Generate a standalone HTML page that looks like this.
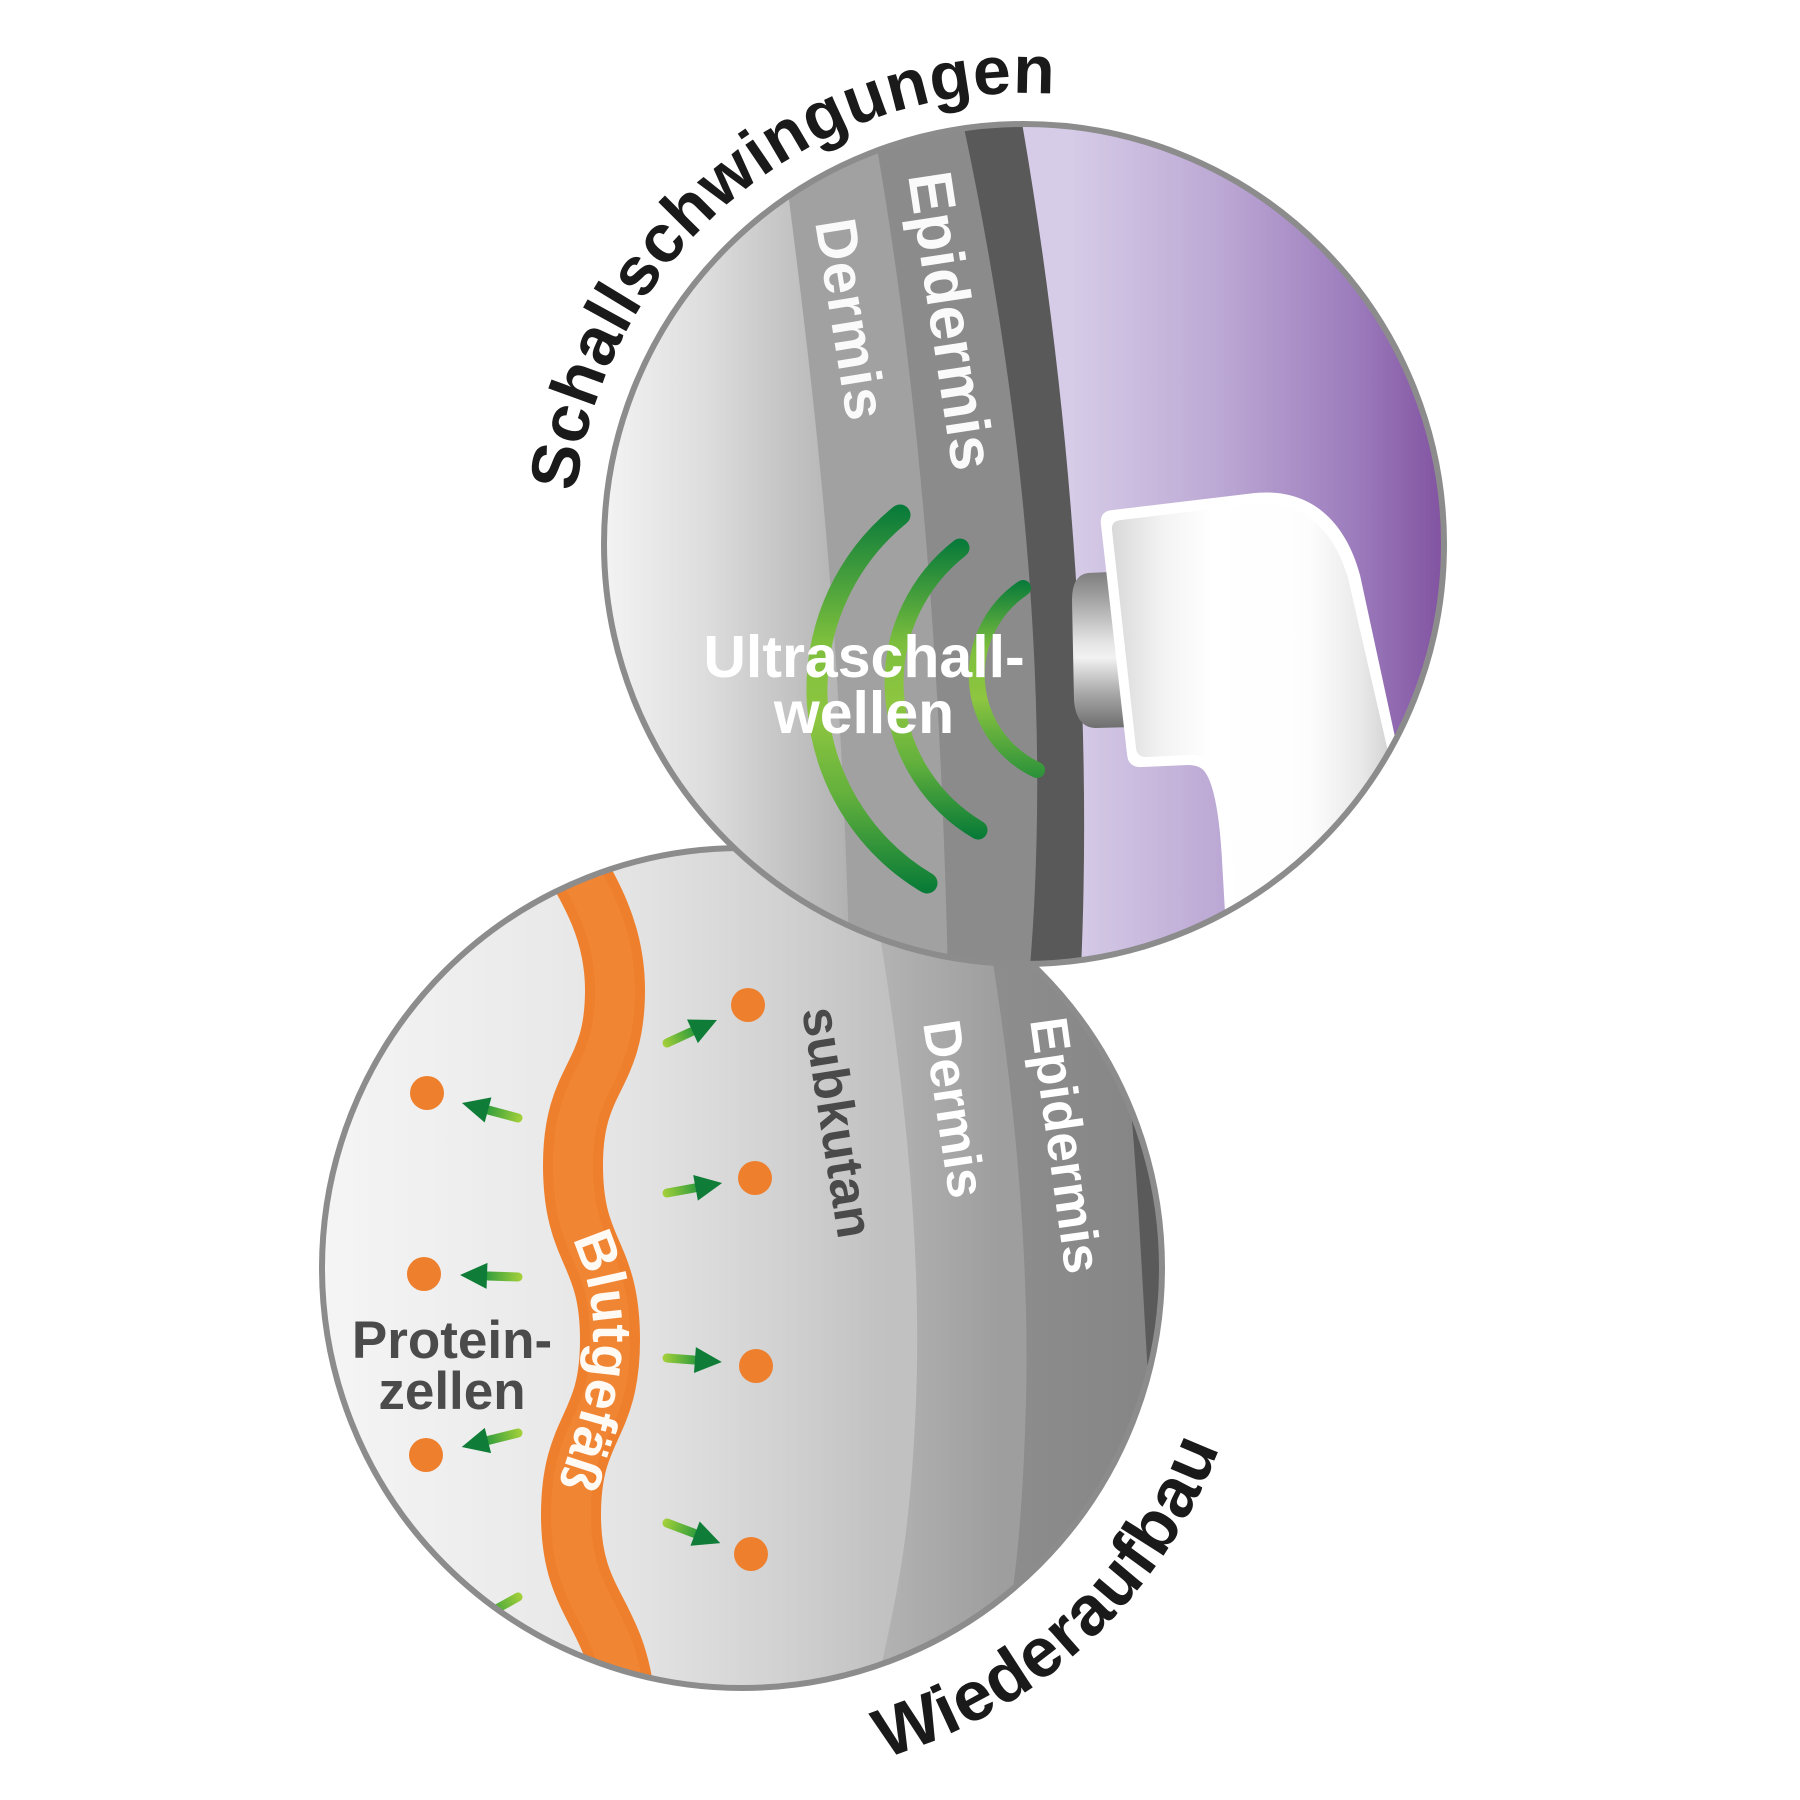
<!DOCTYPE html>
<html>
<head>
<meta charset="utf-8">
<style>
  html,body{margin:0;padding:0;background:#ffffff;}
  svg{display:block;}
  text{font-family:"Liberation Sans", Arial, sans-serif;font-weight:bold;}
</style>
</head>
<body>
<svg width="1800" height="1800" viewBox="0 0 1800 1800" xmlns="http://www.w3.org/2000/svg">
  <defs>
    <clipPath id="cTop"><circle cx="1024" cy="544" r="420"/></clipPath>
    <clipPath id="cBot"><circle cx="742" cy="1268" r="420"/></clipPath>

    <linearGradient id="gTopBase" gradientUnits="userSpaceOnUse" x1="604" y1="0" x2="850" y2="0">
      <stop offset="0" stop-color="#f3f3f3"/>
      <stop offset="0.4" stop-color="#dedede"/>
      <stop offset="0.65" stop-color="#cbcbcb"/>
      <stop offset="1" stop-color="#b1b1b1"/>
    </linearGradient>
    <linearGradient id="gPurple" gradientUnits="userSpaceOnUse" x1="1070" y1="0" x2="1446" y2="0">
      <stop offset="0" stop-color="#d6cce7"/>
      <stop offset="0.4" stop-color="#bca8d4"/>
      <stop offset="0.75" stop-color="#9d7dbd"/>
      <stop offset="1" stop-color="#8152a0"/>
    </linearGradient>
    <linearGradient id="gBotBase" gradientUnits="userSpaceOnUse" x1="322" y1="0" x2="885" y2="0">
      <stop offset="0" stop-color="#f5f5f5"/>
      <stop offset="0.42" stop-color="#e9e9e9"/>
      <stop offset="0.58" stop-color="#e2e2e2"/>
      <stop offset="0.81" stop-color="#d2d2d2"/>
      <stop offset="1" stop-color="#c1c1c1"/>
    </linearGradient>
    <linearGradient id="gBotDerm" gradientUnits="userSpaceOnUse" x1="880" y1="0" x2="1000" y2="0">
      <stop offset="0" stop-color="#b3b3b3"/>
      <stop offset="1" stop-color="#9e9e9e"/>
    </linearGradient>
    <linearGradient id="gBotEpi" gradientUnits="userSpaceOnUse" x1="1000" y1="0" x2="1160" y2="0">
      <stop offset="0" stop-color="#8d8d8d"/>
      <stop offset="1" stop-color="#858585"/>
    </linearGradient>

    <linearGradient id="gW1" gradientUnits="userSpaceOnUse" x1="0" y1="505" x2="0" y2="893">
      <stop offset="0" stop-color="#06793a"/>
      <stop offset="0.35" stop-color="#7dbf3d"/>
      <stop offset="0.55" stop-color="#8ec640"/>
      <stop offset="0.75" stop-color="#62b03c"/>
      <stop offset="1" stop-color="#067a37"/>
    </linearGradient>
    <linearGradient id="gW2" gradientUnits="userSpaceOnUse" x1="0" y1="540" x2="0" y2="838">
      <stop offset="0" stop-color="#06793a"/>
      <stop offset="0.35" stop-color="#7dbf3d"/>
      <stop offset="0.55" stop-color="#8ec640"/>
      <stop offset="0.75" stop-color="#62b03c"/>
      <stop offset="1" stop-color="#067a37"/>
    </linearGradient>
    <linearGradient id="gW3" gradientUnits="userSpaceOnUse" x1="0" y1="580" x2="0" y2="778">
      <stop offset="0" stop-color="#06793a"/>
      <stop offset="0.35" stop-color="#7dbf3d"/>
      <stop offset="0.6" stop-color="#8ec640"/>
      <stop offset="1" stop-color="#2a913a"/>
    </linearGradient>

    <linearGradient id="gCyl" gradientUnits="userSpaceOnUse" x1="0" y1="571" x2="0" y2="728">
      <stop offset="0" stop-color="#7d7d7d"/>
      <stop offset="0.15" stop-color="#9c9c9c"/>
      <stop offset="0.45" stop-color="#e3e3e3"/>
      <stop offset="0.55" stop-color="#f2f2f2"/>
      <stop offset="0.78" stop-color="#a8a8a8"/>
      <stop offset="1" stop-color="#6e6e6e"/>
    </linearGradient>
    <linearGradient id="gProbe" gradientUnits="userSpaceOnUse" x1="1112" y1="0" x2="1395" y2="0">
      <stop offset="0" stop-color="#d9d9d9"/>
      <stop offset="0.18" stop-color="#f3f3f3"/>
      <stop offset="0.35" stop-color="#ffffff"/>
      <stop offset="0.7" stop-color="#fdfdfd"/>
      <stop offset="0.88" stop-color="#e9e9e9"/>
      <stop offset="1" stop-color="#cfcfcf"/>
    </linearGradient>

    <linearGradient id="gArrow" x1="0" y1="0" x2="1" y2="0">
      <stop offset="0" stop-color="#a6d13a"/>
      <stop offset="1" stop-color="#2a9a3c"/>
    </linearGradient>

    <path id="pSchall" d="M 576.0 492.2 A 451 451 0 0 1 1249.5 153.4"/>
    <path id="pWieder" d="M 884.3 1757.8 A 510 510 0 0 0 1204.2 1052.5"/>
    <path id="pBlut" d="M 568 1232 C 585 1262, 594 1300, 593 1340 C 592 1390, 572 1440, 552 1505"/>
  </defs>

  <rect x="0" y="0" width="1800" height="1800" fill="#ffffff"/>

  <!-- ================= BOTTOM CIRCLE ================= -->
  <g clip-path="url(#cBot)">
    <rect x="300" y="840" width="900" height="900" fill="url(#gBotBase)"/>
    <path d="M 874 900 C 905 1080, 922 1250, 916 1400 S 895 1600, 874 1700 L 1300 1700 L 1300 900 Z" fill="url(#gBotDerm)"/>
    <path d="M 982 900 C 1012 1060, 1030 1250, 1026 1400 S 1012 1600, 995 1700 L 1300 1700 L 1300 900 Z" fill="url(#gBotEpi)"/>
    <path d="M 1131 1110 C 1139 1200, 1143 1300, 1149 1390 L 1300 1390 L 1300 1110 Z" fill="#5a5a5a"/>

    <!-- blood vessel -->
    <path d="M 560 840 C 590 890, 615 930, 615 990 C 615 1080, 573 1075, 573 1165 C 573 1255, 610 1250, 610 1340 C 610 1430, 571 1425, 571 1515 C 571 1605, 615 1610, 625 1700"
          fill="none" stroke="#ee7f2c" stroke-width="60"/>
    <path d="M 560 840 C 590 890, 615 930, 615 990 C 615 1080, 573 1075, 573 1165 C 573 1255, 610 1250, 610 1340 C 610 1430, 571 1425, 571 1515 C 571 1605, 615 1610, 625 1700"
          fill="none" stroke="#f18b3a" stroke-width="40" opacity="0.5"/>

    <!-- arrows right -->
    <g transform="translate(667,1043) rotate(-24.7)">
      <rect x="-4.5" y="-4.5" width="36" height="9" rx="4.5" fill="url(#gArrow)"/>
      <path d="M 28 -13 L 55 0 L 28 13 Z" fill="#0f7d38"/>
    </g>
    <g transform="translate(667,1193) rotate(-10.3)">
      <rect x="-4.5" y="-4.5" width="37" height="9" rx="4.5" fill="url(#gArrow)"/>
      <path d="M 29 -13 L 56 0 L 29 13 Z" fill="#0f7d38"/>
    </g>
    <g transform="translate(667,1358) rotate(4.2)">
      <rect x="-4.5" y="-4.5" width="36" height="9" rx="4.5" fill="url(#gArrow)"/>
      <path d="M 28 -13 L 55 0 L 28 13 Z" fill="#0f7d38"/>
    </g>
    <g transform="translate(667,1523) rotate(20.7)">
      <rect x="-4.5" y="-4.5" width="38" height="9" rx="4.5" fill="url(#gArrow)"/>
      <path d="M 30 -13 L 57 0 L 30 13 Z" fill="#0f7d38"/>
    </g>
    <!-- arrows left -->
    <g transform="translate(518,1118) rotate(195)">
      <rect x="-4.5" y="-4.5" width="39" height="9" rx="4.5" fill="url(#gArrow)"/>
      <path d="M 31 -13 L 58 0 L 31 13 Z" fill="#0f7d38"/>
    </g>
    <g transform="translate(518,1277) rotate(182)">
      <rect x="-4.5" y="-4.5" width="39" height="9" rx="4.5" fill="url(#gArrow)"/>
      <path d="M 31 -13 L 58 0 L 31 13 Z" fill="#0f7d38"/>
    </g>
    <g transform="translate(518,1433) rotate(166)">
      <rect x="-4.5" y="-4.5" width="39" height="9" rx="4.5" fill="url(#gArrow)"/>
      <path d="M 31 -13 L 58 0 L 31 13 Z" fill="#0f7d38"/>
    </g>
    <g transform="translate(518,1597) rotate(151)">
      <rect x="-4.5" y="-4.5" width="41" height="9" rx="4.5" fill="url(#gArrow)"/>
      <path d="M 33 -13 L 60 0 L 33 13 Z" fill="#0f7d38"/>
    </g>

    <!-- protein dots -->
    <g fill="#ee7f2d">
      <circle cx="748" cy="1005" r="17"/>
      <circle cx="755" cy="1178" r="17"/>
      <circle cx="756" cy="1366" r="17"/>
      <circle cx="751" cy="1554" r="17"/>
      <circle cx="427" cy="1093" r="17"/>
      <circle cx="424" cy="1274" r="17"/>
      <circle cx="426" cy="1455" r="17"/>
    </g>

    <!-- labels -->
    <text transform="translate(802,1010) rotate(81)" font-size="52" fill="#4a4a4a" textLength="233" lengthAdjust="spacing">subkutan</text>
    <text transform="translate(923,1023) rotate(81.4)" font-size="53" fill="#ffffff" textLength="179" lengthAdjust="spacing">Dermis</text>
    <text transform="translate(1030,1020) rotate(82)" font-size="53" fill="#ffffff" textLength="258" lengthAdjust="spacing">Epidermis</text>

    <text font-size="55" fill="#fffaf3"><textPath href="#pBlut" startOffset="8">Blutgefäß</textPath></text>

    <text x="452" y="1358" font-size="53" fill="#4b4b4b" text-anchor="middle">Protein-</text>
    <text x="452" y="1409" font-size="53" fill="#4b4b4b" text-anchor="middle">zellen</text>
  </g>
  <circle cx="742" cy="1268" r="420" fill="none" stroke="#8c8c8c" stroke-width="6"/>

  <!-- ================= TOP CIRCLE ================= -->
  <g clip-path="url(#cTop)">
    <rect x="600" y="120" width="850" height="850" fill="url(#gTopBase)"/>
    <path d="M 780 130 C 815 400, 840 600, 850 980 L 1500 980 L 1500 130 Z" fill="#a1a1a1"/>
    <path d="M 872 120 C 910 330, 940 600, 948 980 L 1500 980 L 1500 120 Z" fill="#8b8b8b"/>
    <path d="M 958 100 C 1020 380, 1055 700, 1028 990 L 1500 990 L 1500 100 Z" fill="#595959"/>
    <path d="M 1018 100 C 1068 380, 1095 700, 1080 990 L 1500 990 L 1500 100 Z" fill="url(#gPurple)"/>

    <!-- ultrasound waves -->
    <path d="M 900 515 A 225 225 0 0 0 927 883" fill="none" stroke="url(#gW1)" stroke-width="21" stroke-linecap="round"/>
    <path d="M 960 548 A 171 171 0 0 0 978 830" fill="none" stroke="url(#gW2)" stroke-width="19" stroke-linecap="round"/>
    <path d="M 1023 588 A 105 105 0 0 0 1037 770" fill="none" stroke="url(#gW3)" stroke-width="16" stroke-linecap="round"/>

    <!-- labels -->
    <text transform="translate(815,222) rotate(80.8)" font-size="58" fill="#fafafa" textLength="203" lengthAdjust="spacing">Dermis</text>
    <text transform="translate(908,175) rotate(81.4)" font-size="62" fill="#fafafa" textLength="301" lengthAdjust="spacing">Epidermis</text>

    <text x="864" y="677" font-size="59" fill="#ffffff" text-anchor="middle">Ultraschall-</text>
    <text x="864" y="733" font-size="59" fill="#ffffff" text-anchor="middle">wellen</text>

    <!-- probe -->
    <path d="M 1132 571 L 1088 573 Q 1072 575 1072 600 L 1074 700 Q 1076 727 1095 728 L 1135 727 Z" fill="url(#gCyl)"/>
    <path d="M 1101 525 Q 1099 511 1113 510 L 1255 493 C 1310 488, 1345 520, 1360 575 L 1400 760 L 1420 1000 L 1230 1000 L 1222 860 Q 1218 790 1205 772 Q 1200 765 1188 765 L 1142 767 Q 1128 768 1127 754 Z" fill="#ffffff"/>
    <path d="M 1112 530 Q 1111 521 1121 520 L 1253 504 C 1302 500, 1333 528, 1348 578 L 1390 760 L 1410 1000 L 1240 1000 L 1232 860 Q 1228 785 1212 764 Q 1204 754 1188 755 L 1146 757 Q 1137 757 1136 748 Z" fill="url(#gProbe)"/>
  </g>
  <circle cx="1024" cy="544" r="420" fill="none" stroke="#8c8c8c" stroke-width="6"/>

  <!-- ================= CURVED TITLES ================= -->
  <text font-size="68" fill="#1a1a1a" letter-spacing="0.6"><textPath href="#pSchall">Schallschwingungen</textPath></text>
  <text font-size="70" fill="#1a1a1a" letter-spacing="1"><textPath href="#pWieder">Wiederaufbau</textPath></text>
</svg>
</body>
</html>
